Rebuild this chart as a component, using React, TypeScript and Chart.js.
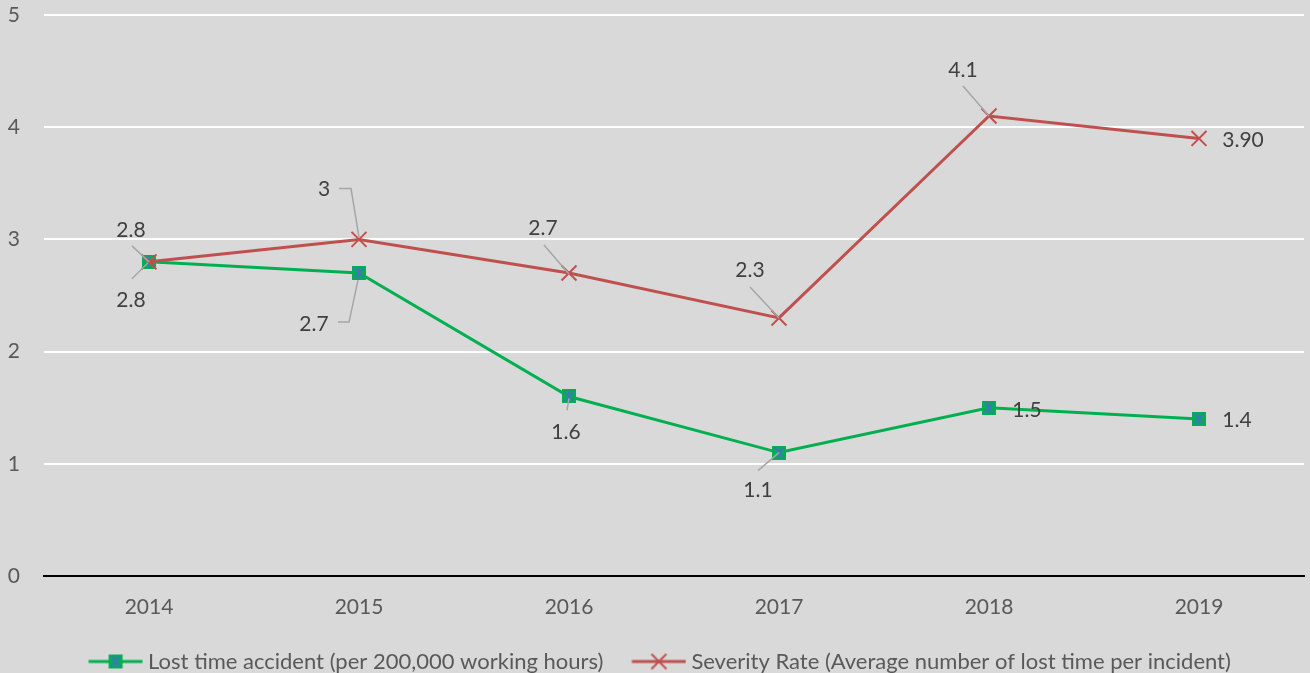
import React, { useEffect, useRef } from 'react';
import { Chart, registerables } from 'chart.js';

Chart.register(...registerables);

// ---------------- data ----------------
const categories = ['2014', '2015', '2016', '2017', '2018', '2019'];
const lostTime = [2.8, 2.7, 1.6, 1.1, 1.5, 1.4];
const severity = [2.8, 3.0, 2.7, 2.3, 4.1, 3.9];
const lostTimeLabels = ['2.8', '2.7', '1.6', '1.1', '1.5', '1.4'];
const severityLabels = ['2.8', '3', '2.7', '2.3', '4.1', '3.90'];
const seriesNames = [
  'Lost time accident (per 200,000 working hours)',
  'Severity Rate (Average number of lost time per incident)',
];
const yMin = 0;
const yMax = 5;
const yStep = 1;

// ---------------- styles ----------------
const FONT = 'Lato, "Open Sans", sans-serif';
const FONT_SIZE = 21;
const LEGEND_FONT_SIZE = 22;
const GREEN = '#00B050';
const BLUE = '#4472C4';
const RED = '#C0504D';
const BG = '#D9D9D9';
const LABEL_COLOR = '#404040';
const TICK_COLOR = '#595959';
const LEADER_COLOR = '#A6A6A6';

// label placement (offset of label centre from its point) and leader lines (relative polylines)
const lostTimeLabelOffsets: [number, number][] = [[-18, 37], [-45, 50], [-3, 35], [-21, 37], [38, 2], [38, 0]];
const lostTimeLeaders: ([number, number][] | null)[] = [
  [[-17, 17], [-1, 1]],
  [[-21, 49], [-10, 49], [-1, 7]],
  [[-2, 14], [0, 2]],
  [[-21, 18], [0, 0]],
  null,
  null,
];
const severityLabelOffsets: [number, number][] = [[-18, -33], [-35, -51], [-26, -46], [-29, -49], [-26, -47], [44, 1]];
const severityLeaders: ([number, number][] | null)[] = [
  [[-17, -16], [0, 0]],
  [[-20, -51], [-8, -51], [0, -2]],
  [[-25, -28], [0, 1]],
  [[-29, -31], [0, 0]],
  [[-26, -30], [0, 0]],
  null,
];

const LEGEND_GAP = 33;
const LEGEND_SHIFT_X = -6;
const LEGEND_SHIFT_Y = 9.5;

function drawGreenMarker(ctx: CanvasRenderingContext2D, cx: number, cy: number) {
  ctx.fillStyle = GREEN;
  ctx.fillRect(cx - 7, cy - 7, 14, 14);
  ctx.strokeStyle = BLUE;
  ctx.lineWidth = 1.6;
  ctx.beginPath();
  ctx.moveTo(cx, cy - 6);
  ctx.lineTo(cx, cy + 6);
  ctx.moveTo(cx - 5, cy - 5);
  ctx.lineTo(cx + 5, cy + 5);
  ctx.moveTo(cx + 5, cy - 5);
  ctx.lineTo(cx - 5, cy + 5);
  ctx.stroke();
}

function drawRedCross(ctx: CanvasRenderingContext2D, cx: number, cy: number) {
  ctx.strokeStyle = RED;
  ctx.lineWidth = 2;
  ctx.beginPath();
  ctx.moveTo(cx - 7.5, cy - 7.5);
  ctx.lineTo(cx + 7.5, cy + 7.5);
  ctx.moveTo(cx + 7.5, cy - 7.5);
  ctx.lineTo(cx - 7.5, cy + 7.5);
  ctx.stroke();
}

function makeGreenPoint(): HTMLCanvasElement {
  const c = document.createElement('canvas');
  c.width = 14;
  c.height = 14;
  drawGreenMarker(c.getContext('2d')!, 7, 7);
  return c;
}

function makeLegendImage(kind: 'green' | 'red'): HTMLCanvasElement {
  const c = document.createElement('canvas');
  c.width = 88;
  c.height = 18;
  const ctx = c.getContext('2d')!;
  const start = LEGEND_GAP + 0.5;
  const end = start + 54;
  const mid = (start + end) / 2;
  ctx.strokeStyle = kind === 'green' ? GREEN : RED;
  ctx.lineWidth = 3;
  ctx.beginPath();
  ctx.moveTo(start, 9);
  ctx.lineTo(end, 9);
  ctx.stroke();
  if (kind === 'green') drawGreenMarker(ctx, mid, 9);
  else drawRedCross(ctx, mid, 9);
  return c;
}

const bgPlugin = {
  id: 'bgFill',
  beforeDraw(chart: any) {
    const { ctx, width, height } = chart;
    ctx.save();
    ctx.fillStyle = BG;
    ctx.fillRect(0, 0, width, height);
    ctx.restore();
  },
};

const legendShiftPlugin = {
  id: 'legendShift',
  afterLayout(chart: any) {
    const lg = chart.legend;
    if (!lg) return;
    lg.left += LEGEND_SHIFT_X;
    lg.right += LEGEND_SHIFT_X;
    lg.top += LEGEND_SHIFT_Y;
    lg.bottom += LEGEND_SHIFT_Y;
  },
};

const labelPlugin = {
  id: 'pointLabels',
  afterDatasetsDraw(chart: any) {
    const ctx: CanvasRenderingContext2D = chart.ctx;
    const groups = [
      { meta: chart.getDatasetMeta(0), texts: lostTimeLabels, offs: lostTimeLabelOffsets, leaders: lostTimeLeaders },
      { meta: chart.getDatasetMeta(1), texts: severityLabels, offs: severityLabelOffsets, leaders: severityLeaders },
    ];
    ctx.save();
    groups.forEach((g) => {
      g.meta.data.forEach((pt: any, i: number) => {
        const leader = g.leaders[i];
        if (leader) {
          ctx.strokeStyle = LEADER_COLOR;
          ctx.lineWidth = 1.5;
          ctx.beginPath();
          leader.forEach(([dx, dy], k) => {
            if (k === 0) ctx.moveTo(pt.x + dx, pt.y + dy);
            else ctx.lineTo(pt.x + dx, pt.y + dy);
          });
          ctx.stroke();
        }
      });
    });
    groups.forEach((g) => {
      g.meta.data.forEach((pt: any, i: number) => {
        const [dx, dy] = g.offs[i];
        ctx.fillStyle = LABEL_COLOR;
        ctx.font = `${FONT_SIZE}px ${FONT}`;
        ctx.textAlign = 'center';
        ctx.textBaseline = 'middle';
        ctx.fillText(g.texts[i], pt.x + dx, pt.y + dy + 1);
      });
    });
    ctx.restore();
  },
};

export default function App() {
  const canvasRef = useRef<HTMLCanvasElement | null>(null);

  useEffect(() => {
    if (!canvasRef.current) return;
    const greenPoint = makeGreenPoint();
    const legendImgs = [makeLegendImage('green'), makeLegendImage('red')];
    const chart = new Chart(canvasRef.current, {
      type: 'line',
      data: {
        labels: categories,
        datasets: [
          {
            label: seriesNames[0],
            data: lostTime,
            borderColor: GREEN,
            borderWidth: 3,
            pointStyle: greenPoint as any,
            pointRadius: 7,
            tension: 0,
            order: 1,
          },
          {
            label: seriesNames[1],
            data: severity,
            borderColor: RED,
            backgroundColor: RED,
            borderWidth: 3,
            pointStyle: 'crossRot',
            pointRadius: 10.6,
            pointBorderColor: RED,
            pointBorderWidth: 2,
            tension: 0,
            order: 0,
          },
        ],
      },
      options: {
        animation: false,
        responsive: true,
        maintainAspectRatio: false,
        events: [],
        layout: { autoPadding: false, padding: { top: 15, right: 6, left: 0, bottom: 0 } },
        scales: {
          x: {
            offset: true,
            grid: { display: false },
            border: { display: true, color: '#000000', width: 2 },
            ticks: { color: TICK_COLOR, font: { family: FONT, size: FONT_SIZE }, padding: 11 },
            afterFit: (scale: any) => {
              scale.height = 64;
              scale.paddingLeft = 0;
              scale.paddingRight = 0;
            },
          },
          y: {
            min: yMin,
            max: yMax,
            grid: {
              color: (ctx: any) => (ctx.tick && ctx.tick.value === 0 ? 'rgba(0,0,0,0)' : '#FFFFFF'),
              lineWidth: 2,
              drawTicks: false,
            },
            border: { display: false },
            ticks: {
              stepSize: yStep,
              color: TICK_COLOR,
              font: { family: FONT, size: FONT_SIZE },
              padding: 24,
            },
            afterFit: (scale: any) => {
              scale.width = 44;
              scale.paddingTop = 0;
              scale.paddingBottom = 0;
            },
          },
        },
        plugins: {
          tooltip: { enabled: false },
          legend: {
            position: 'bottom',
            labels: {
              usePointStyle: true,
              pointStyleWidth: LEGEND_GAP + 43,
              padding: 1,
              color: TICK_COLOR,
              font: { family: FONT, size: LEGEND_FONT_SIZE },
              generateLabels: () =>
                seriesNames.map((name, i) => ({
                  text: name,
                  fillStyle: i === 0 ? GREEN : RED,
                  strokeStyle: i === 0 ? GREEN : RED,
                  lineWidth: 0,
                  pointStyle: legendImgs[i] as any,
                  hidden: false,
                  datasetIndex: i,
                  fontColor: TICK_COLOR,
                })),
            },
          },
        },
      },
      plugins: [bgPlugin, legendShiftPlugin, labelPlugin],
    });
    return () => chart.destroy();
  }, []);

  return (
    <div style={{ position: 'fixed', left: 0, top: 0, width: 1310, height: 673, background: BG }}>
      <canvas ref={canvasRef} />
    </div>
  );
}
